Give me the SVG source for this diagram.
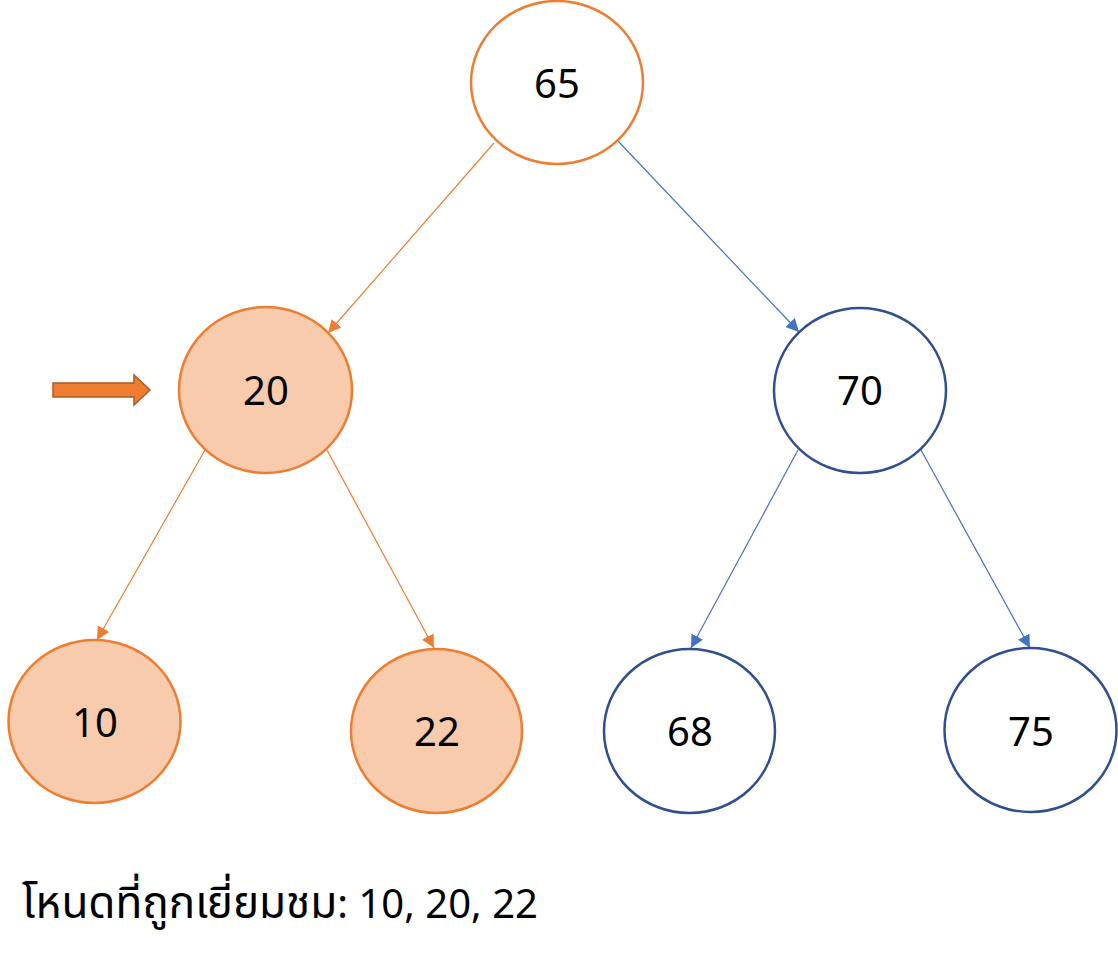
<svg xmlns="http://www.w3.org/2000/svg" width="1118" height="960" viewBox="0 0 1118 960">
<style>
.lbl{font-family:"Noto Sans","Noto Sans Thai","Liberation Sans",sans-serif;font-size:40px;fill:#000;text-anchor:middle}
.vis{fill:#F8CBAD;stroke:#ED7D31;stroke-width:2.5}
.top{fill:#fff;stroke:#ED7D31;stroke-width:2.5}
.unv{fill:#fff;stroke:#2F4F8F;stroke-width:2.5}
.eo{stroke:#ED7D31;stroke-width:1.2;fill:none;marker-end:url(#ao)}
.eb{stroke:#4472C4;stroke-width:1.2;fill:none;marker-end:url(#ab)}
.cap{font-family:"Noto Sans","Noto Sans Thai","Liberation Sans",sans-serif;font-size:40px;fill:#000}
</style>
<defs>
<marker id="ao" viewBox="0 0 10 10" refX="10" refY="5" markerWidth="13" markerHeight="13" markerUnits="userSpaceOnUse" orient="auto"><path d="M0,0L10,5L0,10z" fill="#ED7D31"/></marker>
<marker id="ab" viewBox="0 0 10 10" refX="10" refY="5" markerWidth="13" markerHeight="13" markerUnits="userSpaceOnUse" orient="auto"><path d="M0,0L10,5L0,10z" fill="#4472C4"/></marker>
</defs>
<rect width="1118" height="960" fill="#fff"/>
<g id="connectors">
<line class="eo" x1="494" y1="143" x2="328" y2="333"/>
<line class="eb" x1="618" y1="141" x2="799" y2="332"/>
<line class="eo" x1="205" y1="450" x2="97" y2="640"/>
<line class="eo" x1="327" y1="450" x2="434" y2="648"/>
<line class="eb" x1="798" y1="450" x2="691" y2="648"/>
<line class="eb" x1="921" y1="450" x2="1030" y2="648"/>
</g>
<g id="n65"><ellipse class="top" cx="557" cy="82.5" rx="86" ry="81.5"/><text class="lbl" x="557" y="98">65</text></g>
<g id="n20"><ellipse class="vis" cx="265.5" cy="390" rx="86.5" ry="83"/><text class="lbl" x="266" y="405">20</text></g>
<g id="n70"><ellipse class="unv" cx="860" cy="390.5" rx="86" ry="82.5"/><text class="lbl" x="860" y="405">70</text></g>
<g id="n10"><ellipse class="vis" cx="94.5" cy="721.5" rx="86" ry="81.5"/><text class="lbl" x="95" y="737">10</text></g>
<g id="n22"><ellipse class="vis" cx="436.5" cy="731" rx="85.5" ry="82"/><text class="lbl" x="437" y="746">22</text></g>
<g id="n68"><ellipse class="unv" cx="689.5" cy="731" rx="85.5" ry="82"/><text class="lbl" x="690" y="746">68</text></g>
<g id="n75"><ellipse class="unv" cx="1030.5" cy="730" rx="86" ry="82"/><text class="lbl" x="1031" y="746">75</text></g>
<g id="pointer"><path d="M53,383H134V375L150,390L134,405V397H53Z" fill="#ED7D31" stroke="#AE5A21" stroke-width="1.5"/></g>
<g id="caption"><text class="cap" x="22" y="918"><tspan font-size="44">โหนดที่ถูกเยี่ยมชม</tspan>: 10, 20, 22</text></g>
</svg>
